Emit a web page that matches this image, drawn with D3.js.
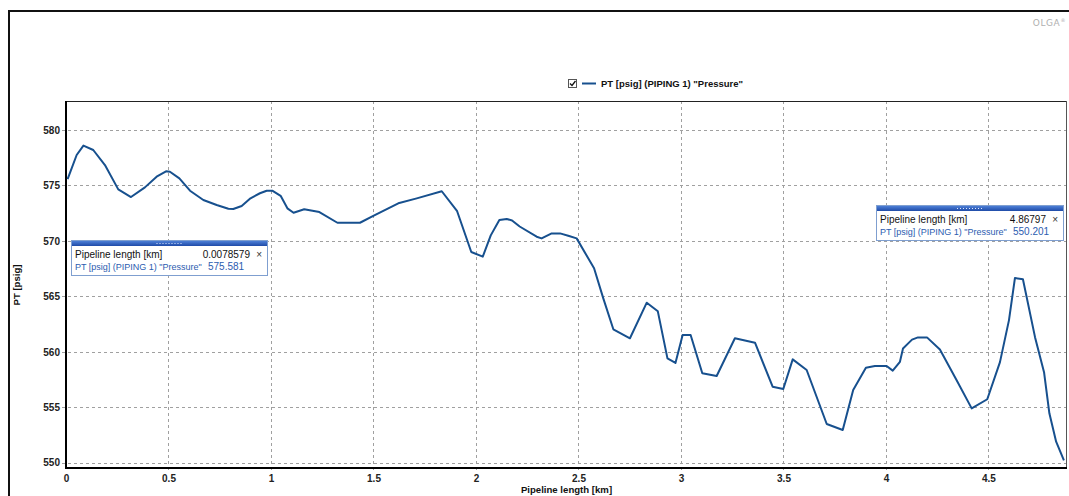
<!DOCTYPE html>
<html>
<head>
<meta charset="utf-8">
<script src="https://cdn.jsdelivr.net/npm/d3@7"></script>
<style>
  html, body { margin: 0; padding: 0; background: #fff; }
  svg { display: block; font-family: Arial, "Liberation Sans", sans-serif; }
</style>
</head>
<body>
<svg id="chart" width="1069" height="496"></svg>
<script>
// Pressure profile along the pipeline
const lengthKm = [
  0.0078579, 0.052, 0.085, 0.133, 0.19, 0.255, 0.317, 0.385, 0.442, 0.488,
  0.507, 0.553, 0.605, 0.67, 0.735, 0.792, 0.816, 0.857, 0.9, 0.946,
  0.979, 1.008, 1.047, 1.08, 1.11, 1.162, 1.236, 1.324, 1.434, 1.499,
  1.621, 1.711, 1.833, 1.908, 1.977, 2.033, 2.072, 2.114, 2.15, 2.176,
  2.213, 2.296, 2.32, 2.369, 2.41, 2.45, 2.491, 2.576, 2.621, 2.67,
  2.751, 2.833, 2.887, 2.934, 2.973, 3.008, 3.047, 3.104, 3.174, 3.263,
  3.361, 3.447, 3.499, 3.545, 3.613, 3.711, 3.789, 3.84, 3.902, 3.946,
  4.003, 4.033, 4.068, 4.083, 4.127, 4.156, 4.2, 4.263, 4.344, 4.418,
  4.494, 4.556, 4.6, 4.629, 4.668, 4.727, 4.771, 4.797, 4.83, 4.86797
];
const pressurePsig = [
  575.581, 577.75, 578.6, 578.2, 576.84, 574.65, 573.96, 574.83, 575.79, 576.28,
  576.24, 575.64, 574.53, 573.69, 573.24, 572.9, 572.88, 573.15, 573.84, 574.3,
  574.53, 574.52, 574.07, 572.94, 572.54, 572.85, 572.6, 571.64, 571.64, 572.25,
  573.39, 573.84, 574.48, 572.68, 569.0, 568.58, 570.5, 571.88, 571.98, 571.85,
  571.3, 570.38, 570.23, 570.68, 570.68, 570.47, 570.23, 567.53, 564.82, 562.03,
  561.22, 564.43, 563.65, 559.41, 559.0, 561.52, 561.52, 558.06, 557.82, 561.22,
  560.82, 556.85, 556.65, 559.32, 558.36, 553.49, 552.95, 556.56, 558.57, 558.72,
  558.72, 558.3, 559.1, 560.3, 561.1, 561.3, 561.3, 560.2, 557.46, 554.9,
  555.72, 559.07, 562.86, 566.65, 566.55, 561.32, 558.16, 554.45, 551.89, 550.201
];
const xTicks = [0, 0.5, 1, 1.5, 2, 2.5, 3, 3.5, 4, 4.5];
const yTicks = [550, 555, 560, 565, 570, 575, 580];
const seriesName = 'PT [psig] (PIPING 1) "Pressure"';
const xTitle = "Pipeline length [km]";
const yTitle = "PT [psig]";
// Readout boxes: index of the sample each one reports
const readouts = [
  { index: 0, value: "0.0078579", reading: "575.581", box: [71, 240, 197, 36] },
  { index: lengthKm.length - 1, value: "4.86797", reading: "550.201", box: [876, 205, 188, 36] }
];

const svg = d3.select("#chart");
const plot = { left: 66, top: 101, right: 1067, bottom: 468 };
const lineColor = "#17508e";

const x = d3.scaleLinear().domain([0, 4.883]).range([plot.left, plot.right]);
const y = d3.scaleLinear().domain([549.52, 582.62]).range([plot.bottom, plot.top]);

// Outer window frame
svg.append("path")
  .attr("d", `M9,496 V11 H1069`)
  .attr("fill", "none").attr("stroke", "#111").attr("stroke-width", 2);

// Brand mark
const brand = svg.append("text")
  .attr("x", 1066).attr("y", 26)
  .attr("text-anchor", "end")
  .attr("font-size", 9).attr("fill", "#b0b0b0")
  .attr("letter-spacing", 0.6)
  .attr("font-family", "'DejaVu Sans', sans-serif");
brand.append("tspan").text("OLGA");
brand.append("tspan").attr("font-size", 5).attr("dy", -4).text("®");

// Grid
const grid = svg.append("g");
grid.selectAll("line.v").data(xTicks.filter(d => d > 0)).join("line")
  .attr("x1", d => Math.round(x(d)) + 0.5).attr("x2", d => Math.round(x(d)) + 0.5)
  .attr("y1", plot.top).attr("y2", plot.bottom + 5)
  .attr("stroke", "#a0a0a0").attr("stroke-dasharray", "3,3");
grid.selectAll("line.h").data(yTicks).join("line")
  .attr("x1", plot.left - 4).attr("x2", plot.right)
  .attr("y1", d => Math.round(y(d)) + 0.5).attr("y2", d => Math.round(y(d)) + 0.5)
  .attr("stroke", "#a0a0a0").attr("stroke-dasharray", "3,3");

// Plot frame
svg.append("line").attr("x1", plot.left).attr("x2", plot.right)
  .attr("y1", plot.top + 0.5).attr("y2", plot.top + 0.5).attr("stroke", "#222");
svg.append("line").attr("x1", plot.right - 0.5).attr("x2", plot.right - 0.5)
  .attr("y1", plot.top).attr("y2", plot.bottom).attr("stroke", "#555");

// Axes
const xAxis = d3.axisBottom(x).tickValues(xTicks).tickSize(0).tickPadding(7)
  .tickFormat(d => String(d));
const yAxis = d3.axisLeft(y).tickValues(yTicks).tickSize(0).tickPadding(6)
  .tickFormat(d => String(d));

const gx = svg.append("g").attr("transform", `translate(0,${plot.bottom})`).call(xAxis);
const gy = svg.append("g").attr("transform", `translate(${plot.left},0)`).call(yAxis);
[gx, gy].forEach(g => {
  g.select(".domain").attr("stroke", "#000").attr("stroke-width", 2);
  g.selectAll("text").attr("font-size", 10).attr("font-weight", "bold")
    .attr("fill", "#222").attr("font-family", "Arial, 'Liberation Sans', sans-serif");
});
gx.select(".domain").attr("d", `M${plot.left},0H${plot.right}`);
gy.select(".domain").attr("d", `M0,${plot.top}V${plot.bottom + 1}`);

// Axis titles
svg.append("text")
  .attr("x", (plot.left + plot.right) / 2).attr("y", 493)
  .attr("text-anchor", "middle").attr("font-size", 9.6).attr("font-weight", "bold")
  .attr("fill", "#111").text(xTitle);
svg.append("text")
  .attr("transform", `translate(20,285) rotate(-90)`)
  .attr("text-anchor", "middle").attr("font-size", 9.6).attr("font-weight", "bold")
  .attr("fill", "#111").text(yTitle);

// Legend
const legend = svg.append("g").attr("transform", "translate(568,79)");
legend.append("rect").attr("x", 0.5).attr("y", 0.5).attr("width", 8).attr("height", 8)
  .attr("fill", "#fff").attr("stroke", "#555");
legend.append("path").attr("d", "M2,4.5 L4,6.5 L7.5,2")
  .attr("fill", "none").attr("stroke", "#111").attr("stroke-width", 1.3);
legend.append("line").attr("x1", 14).attr("x2", 28).attr("y1", 4.5).attr("y2", 4.5)
  .attr("stroke", lineColor).attr("stroke-width", 2);
legend.append("text").attr("x", 33).attr("y", 8)
  .attr("font-size", 9.5).attr("font-weight", "bold").attr("fill", "#111")
  .text(seriesName);

// Pressure line
const points = lengthKm.map((d, i) => [d, pressurePsig[i]]);
svg.append("path")
  .datum(points)
  .attr("fill", "none")
  .attr("stroke", lineColor)
  .attr("stroke-width", 2)
  .attr("stroke-linejoin", "round")
  .attr("d", d3.line().x(d => x(d[0])).y(d => y(d[1])));

// Readout boxes
const grad = svg.append("defs").append("linearGradient")
  .attr("id", "hdr").attr("x1", 0).attr("x2", 0).attr("y1", 0).attr("y2", 1);
grad.append("stop").attr("offset", "0%").attr("stop-color", "#4d7fd6");
grad.append("stop").attr("offset", "100%").attr("stop-color", "#1f4ba8");

readouts.forEach(r => {
  const [bx, by, bw, bh] = r.box;
  const g = svg.append("g").attr("transform", `translate(${bx},${by})`);
  g.append("rect").attr("x", 0.5).attr("y", 0.5).attr("width", bw - 1).attr("height", bh - 1)
    .attr("fill", "#fff").attr("stroke", "#7f9fd0");
  g.append("rect").attr("x", 1).attr("y", 1).attr("width", bw - 2).attr("height", 5)
    .attr("fill", "url(#hdr)");
  // grip dots
  for (let k = 0; k < 9; k++) {
    g.append("rect").attr("x", bw / 2 - 13 + k * 3).attr("y", 3).attr("width", 1).attr("height", 1)
      .attr("fill", "#dfe8ff");
  }
  g.append("text").attr("x", 4).attr("y", 18).attr("font-size", 10).attr("fill", "#111")
    .text(xTitle);
  g.append("text").attr("x", bw - 18).attr("y", 18).attr("font-size", 10).attr("fill", "#111")
    .attr("text-anchor", "end").text(r.value);
  g.append("text").attr("x", bw - 6).attr("y", 18).attr("font-size", 10).attr("fill", "#333")
    .attr("text-anchor", "end").text("×");
  // series label and its reading on one line
  const row = g.append("text").attr("y", 30).attr("fill", "#2c5cb0");
  row.append("tspan").attr("x", 4).attr("font-size", 9).text(seriesName);
  row.append("tspan").attr("x", 137).attr("font-size", 10).text(r.reading);
});
</script>
</body>
</html>
